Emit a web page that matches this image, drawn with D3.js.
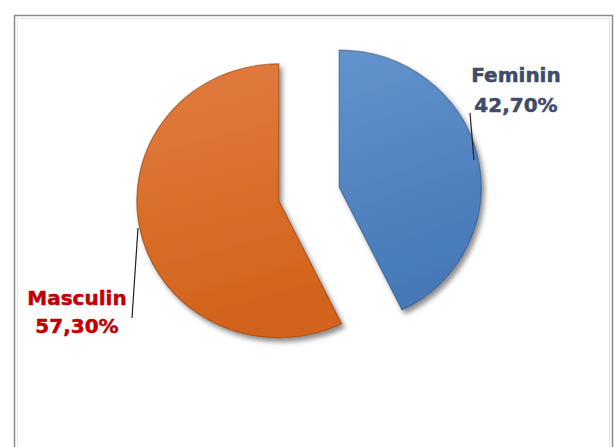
<!DOCTYPE html>
<html><head><meta charset="utf-8">
<script src="https://cdn.jsdelivr.net/npm/d3@7"></script>
<style>html,body{margin:0;padding:0;background:#fff;}svg{display:block;}</style>
</head><body>
<script>
const categories = ["Feminin", "Masculin"];
const values = [42.70, 57.30];
const labels = ["42,70%", "57,30%"];

const W = 614, H = 447;
const svg = d3.select("body").append("svg").attr("width", W).attr("height", H);
const defs = svg.append("defs");

// frame
svg.append("rect").attr("x", 14.5).attr("y", 15.5).attr("width", 598).attr("height", 460)
  .attr("fill", "#fff").attr("stroke", "#8a8a8a").attr("stroke-width", 1.5);
svg.append("rect").attr("x", 17.5).attr("y", 18.5).attr("width", 592).attr("height", 460)
  .attr("fill", "none").attr("stroke", "#e6e6e6").attr("stroke-width", 1);

const colors = {Feminin: ["#6393cc", "#4678b8", "#2b4f7c"], Masculin: ["#e17c40", "#d2631a", "#8a3d0e"]};
const textColors = {Feminin: "#3f4b68", Masculin: "#c00000"};

categories.forEach(c => {
  const g = defs.append("linearGradient").attr("id", "g-" + c)
    .attr("x1", "0").attr("y1", "0").attr("x2", "0.2").attr("y2", "1");
  g.append("stop").attr("offset", "0%").attr("stop-color", colors[c][0]);
  g.append("stop").attr("offset", "100%").attr("stop-color", colors[c][1]);
});
const f = defs.append("filter").attr("id", "sh").attr("x", "-20%").attr("y", "-20%").attr("width", "140%").attr("height", "140%");
f.append("feDropShadow").attr("dx", 3).attr("dy", 4).attr("stdDeviation", 2.5)
  .attr("flood-color", "#000").attr("flood-opacity", 0.45);

const cx = 309, cy = 194, R = 142, explode = 31, squash = 0.965;
const pie = d3.pie().sort(null).value(d => d.v);
const data = pie(categories.map((c, i) => ({c, v: values[i], l: labels[i]})));
const arc = d3.arc().innerRadius(0).outerRadius(R);

const slices = svg.append("g").attr("transform", `translate(${cx},${cy}) scale(1,${squash})`);
data.forEach(d => {
  const mid = (d.startAngle + d.endAngle) / 2;
  const ox = Math.sin(mid) * explode, oy = -Math.cos(mid) * explode;
  const g = slices.append("g").attr("transform", `translate(${ox},${oy})`);
  g.append("path").attr("d", arc(d)).attr("fill", `url(#g-${d.data.c})`)
    .attr("stroke", colors[d.data.c][2]).attr("stroke-width", 1.2).attr("stroke-opacity", 0.6)
    .attr("filter", "url(#sh)");
});

// labels
const lab = [
  {c: "Feminin", x: 516, y1: 82, y2: 112, line: [[470, 113], [474, 160]]},
  {c: "Masculin", x: 77, y1: 305, y2: 333, line: [[138, 228], [132, 318]]}
];
lab.forEach(L => {
  const d = data.find(e => e.data.c === L.c);
  svg.append("line").attr("x1", L.line[0][0]).attr("y1", L.line[0][1])
    .attr("x2", L.line[1][0]).attr("y2", L.line[1][1]).attr("stroke", "#222").attr("stroke-width", 1.2);
  const t = svg.append("text").attr("text-anchor", "middle")
    .attr("font-family", "DejaVu Sans, Verdana, sans-serif").attr("font-weight", "bold")
    .attr("font-size", 20).attr("fill", textColors[L.c])
    .attr("stroke", textColors[L.c]).attr("stroke-width", 0.5);
  t.append("tspan").attr("x", L.x).attr("y", L.y1).text(d.data.c);
  t.append("tspan").attr("x", L.x).attr("y", L.y2).text(d.data.l);
});
</script>
</body></html>
